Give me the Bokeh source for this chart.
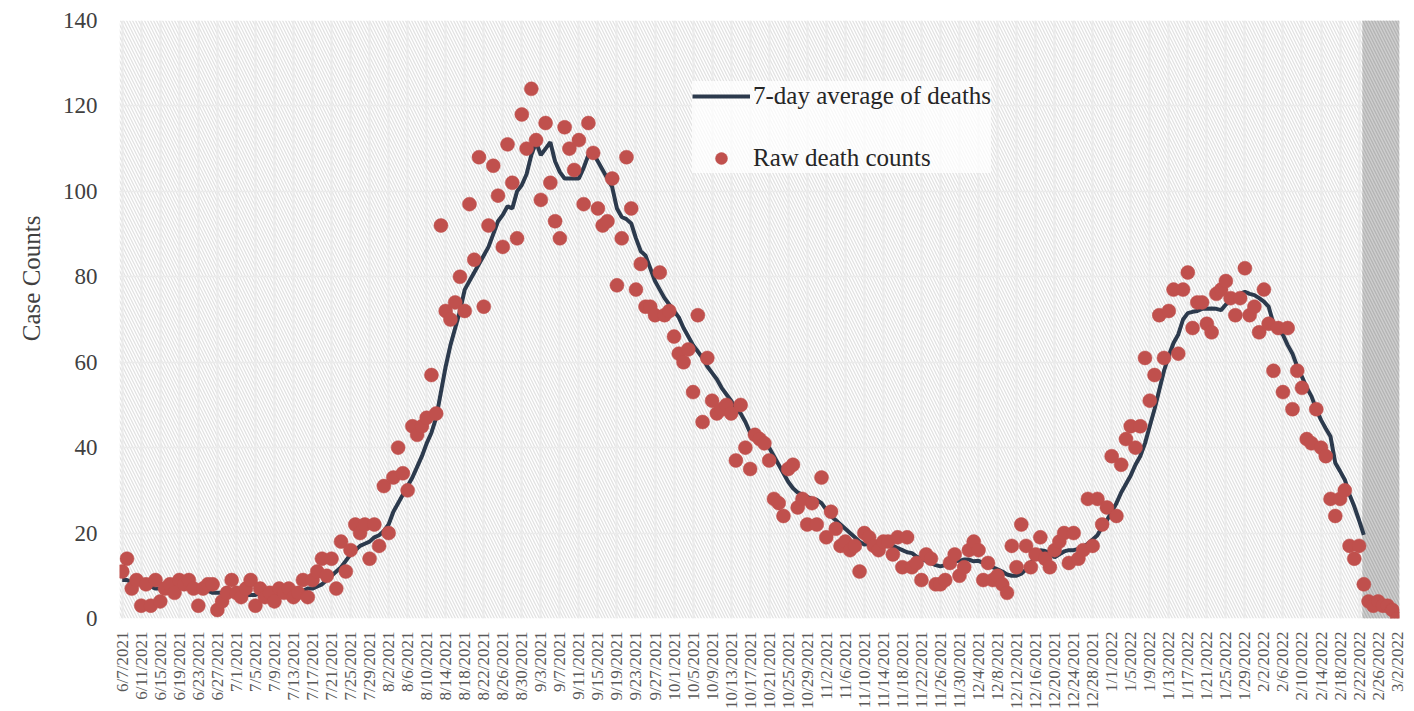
import math
from bokeh.plotting import figure
from bokeh.models import (Range1d, FixedTicker, BoxAnnotation, Legend, LegendItem,
                          Title, ColumnDataSource)
from bokeh.embed import file_html
from bokeh.resources import INLINE

# ---- data (day index 0 = 6/7/2021) ----
raw_deaths = [
    11, 14, 7, 9, 3, 8, 3, 9, 4, 7,
    8, 6, 9, 8, 9, 7, 3, 7, 8, 8,
    2, 4, 6, 9, 6, 5, 7, 9, 3, 7,
    5, 6, 4, 7, 6, 7, 5, 6, 9, 5,
    9, 11, 14, 10, 14, 7, 18, 11, 16, 22,
    20, 22, 14, 22, 17, 31, 20, 33, 40, 34,
    30, 45, 43, 45, 47, 57, 48, 92, 72, 70,
    74, 80, 72, 97, 84, 108, 73, 92, 106, 99,
    87, 111, 102, 89, 118, 110, 124, 112, 98, 116,
    102, 93, 89, 115, 110, 105, 112, 97, 116, 109,
    96, 92, 93, 103, 78, 89, 108, 96, 77, 83,
    73, 73, 71, 81, 71, 72, 66, 62, 60, 63,
    53, 71, 46, 61, 51, 48, 49, 50, 48, 37,
    50, 40, 35, 43, 42, 41, 37, 28, 27, 24,
    35, 36, 26, 28, 22, 27, 22, 33, 19, 25,
    21, 17, 18, 16, 17, 11, 20, 19, 17, 16,
    18, 18, 15, 19, 12, 19, 12, 13, 9, 15,
    14, 8, 8, 9, 13, 15, 10, 12, 16, 18,
    16, 9, 13, 9, 10, 8, 6, 17, 12, 22,
    17, 12, 15, 19, 14, 12, 16, 18, 20, 13,
    20, 14, 16, 28, 17, 28, 22, 26, 38, 24,
    36, 42, 45, 40, 45, 61, 51, 57, 71, 61,
    72, 77, 62, 77, 81, 68, 74, 74, 69, 67,
    76, 77, 79, 75, 71, 75, 82, 71, 73, 67,
    77, 69, 58, 68, 53, 68, 49, 58, 54, 42,
    41, 49, 40, 38, 28, 24, 28, 30, 17, 14,
    17, 8, 4, 3, 4, 3, 3, 2, 0,
]

avg_deaths = [
    9, 9, 8.5, 8.5, 8, 8, 7.5, 7, 7, 7,
    7, 7, 7, 7.5, 7, 7, 6.5, 6.5, 6.5, 6,
    6, 6, 6, 6, 5.5, 5.5, 5.5, 5.5, 5.5, 6,
    6, 6, 5.5, 6, 6, 6.5, 6.5, 6.5, 6.5, 7,
    7, 7.5, 8, 9, 10, 11, 12, 13.5, 15, 16,
    17, 17.5, 18, 19, 19.5, 20.5, 22, 25, 27, 29,
    31, 33, 35.5, 38, 41, 43.5, 47, 53, 59, 64,
    68, 72, 77, 79, 81, 83, 85, 87, 90, 93,
    94.5, 96.5, 96, 100, 101.5, 104, 108.5, 111.5, 108.5, 110,
    111.5, 107, 104.5, 103, 103, 103, 103, 105.5, 108.5, 109,
    107, 105, 103, 101, 96, 94, 93.5, 92.5, 89, 86,
    85, 82, 79, 77, 75, 73.5, 72, 70.5, 68, 66,
    64, 62.5, 61, 59, 57.5, 56, 54, 52.5, 51, 49,
    48, 46, 43.5, 42, 41, 40.5, 40, 38, 36, 34,
    32, 30.5, 29.5, 29, 28.5, 28, 27.8, 27, 25.5, 24,
    23, 22, 21, 20, 19, 18, 17.3, 17.5, 17.5, 17.3,
    17, 17, 17, 16.5, 16, 15.5, 15.3, 14.5, 14, 13.5,
    13, 12.5, 12.2, 12.5, 13.2, 13.4, 13.5, 13.8, 13.8, 13.4,
    13.5, 13, 12.5, 12, 11.5, 11, 10.3, 10, 10, 10.5,
    11.5, 13, 14.5, 16, 15.8, 15.4, 14.3, 15, 15.7, 16,
    16, 16.3, 16.8, 17.5, 18.5, 19.5, 21.5, 23, 25, 27,
    29.5, 31.5, 33.5, 36, 38, 41, 45, 49, 53.5, 58,
    61.5, 64.5, 66.5, 70, 71.5, 71.8, 72, 72.5, 72.5, 72.6,
    72.5, 72.2, 73.5, 74.5, 75.3, 76, 76.5, 76, 75.7, 75,
    74.2, 73, 69, 67.5, 66.4, 64, 62, 59, 56.6, 54,
    52, 49, 46.5, 44.5, 42.6, 36.4, 34.5, 32.5, 29, 26.2,
    23, 19.6,
]

tick_labels = [
    "6/7/2021", "6/11/2021", "6/15/2021", "6/19/2021", "6/23/2021", "6/27/2021",
    "7/1/2021", "7/5/2021", "7/9/2021", "7/13/2021", "7/17/2021", "7/21/2021",
    "7/25/2021", "7/29/2021", "8/2/2021", "8/6/2021", "8/10/2021", "8/14/2021",
    "8/18/2021", "8/22/2021", "8/26/2021", "8/30/2021", "9/3/2021", "9/7/2021",
    "9/11/2021", "9/15/2021", "9/19/2021", "9/23/2021", "9/27/2021", "10/1/2021",
    "10/5/2021", "10/9/2021", "10/13/2021", "10/17/2021", "10/21/2021", "10/25/2021",
    "10/29/2021", "11/2/2021", "11/6/2021", "11/10/2021", "11/14/2021", "11/18/2021",
    "11/22/2021", "11/26/2021", "11/30/2021", "12/4/2021", "12/8/2021", "12/12/2021",
    "12/16/2021", "12/20/2021", "12/24/2021", "12/28/2021", "1/1/2022", "1/5/2022",
    "1/9/2022", "1/13/2022", "1/17/2022", "1/21/2022", "1/25/2022", "1/29/2022",
    "2/2/2022", "2/6/2022", "2/10/2022", "2/14/2022", "2/18/2022", "2/22/2022",
    "2/26/2022", "3/2/2022",
]
tick_step_days = 4
shade_start_day = 260.7   # start of the darker (incomplete data) band

FONT = "Liberation Serif"

raw_src = ColumnDataSource(dict(day=list(range(len(raw_deaths))), v=raw_deaths))
avg_src = ColumnDataSource(dict(day=list(range(len(avg_deaths))), v=avg_deaths))

p = figure(width=1406, height=711, output_backend="svg", toolbar_location=None,
           x_range=Range1d(-0.57, len(raw_deaths) - 0.5), y_range=Range1d(0, 140),
           min_border_left=119, min_border_right=7, min_border_top=20,
           min_border_bottom=92)
p.outline_line_color = None
p.background_fill_color = "white"
p.border_fill_color = "white"

# hatched plot background
p.add_layout(BoxAnnotation(level="image", fill_color="white", fill_alpha=1.0,
                           line_color=None, hatch_pattern="\\", hatch_scale=6,
                           hatch_weight=1.3, hatch_color="#e2e2e2"))
# darker band at the right
p.add_layout(BoxAnnotation(level="underlay", left=shade_start_day, fill_color="#c9c9c9",
                           fill_alpha=0.9, line_color=None, hatch_pattern="\\",
                           hatch_scale=6, hatch_weight=1.3, hatch_color="#b4b4b4"))

ticks = [i * tick_step_days for i in range(len(tick_labels))]
p.xaxis.ticker = FixedTicker(ticks=ticks)
p.xaxis.major_label_overrides = {t: lab for t, lab in zip(ticks, tick_labels)}
p.xaxis.major_label_orientation = math.pi / 2
p.xaxis.major_label_text_font = FONT
p.xaxis.major_label_text_font_size = "17px"
p.xaxis.major_label_text_color = "#595959"
p.xaxis.major_label_standoff = 7
p.xaxis.axis_line_color = None
p.xaxis.major_tick_line_color = None
p.xaxis.minor_tick_line_color = None

p.yaxis.ticker = FixedTicker(ticks=[0, 20, 40, 60, 80, 100, 120, 140])
p.yaxis.major_label_text_font = FONT
p.yaxis.major_label_text_font_size = "23px"
p.yaxis.major_label_text_color = "#404040"
p.yaxis.major_label_standoff = 16
p.yaxis.axis_line_color = None
p.yaxis.major_tick_line_color = None
p.yaxis.minor_tick_line_color = None

p.xgrid.grid_line_color = "#ebebeb"
p.xgrid.grid_line_width = 2
p.ygrid.grid_line_color = "#ebebeb"
p.ygrid.grid_line_width = 1.5

p.add_layout(Title(text="Case Counts", align="right", offset=195, standoff=29,
                   text_font=FONT, text_font_size="25px", text_font_style="normal",
                   text_color="#404040"), "left")

line_r = p.line("day", "v", source=avg_src, line_color="#2C3A4D", line_width=4)
dots_r = p.scatter("day", "v", source=raw_src, size=14, fill_color="#C0504D",
                   line_color="#C0504D", line_width=0.5)

legend = Legend(items=[LegendItem(label="7-day average of deaths", renderers=[line_r]),
                       LegendItem(label="Raw death counts", renderers=[dots_r])],
                location=(573, 445), glyph_width=58, glyph_height=30, label_height=30,
                label_standoff=3, spacing=32, padding=14,
                label_text_font=FONT, label_text_font_size="25px",
                label_text_color="#262626", background_fill_color="white",
                background_fill_alpha=0.75, border_line_color=None)
p.add_layout(legend)

open("out.html", "w").write(file_html(p, INLINE))
